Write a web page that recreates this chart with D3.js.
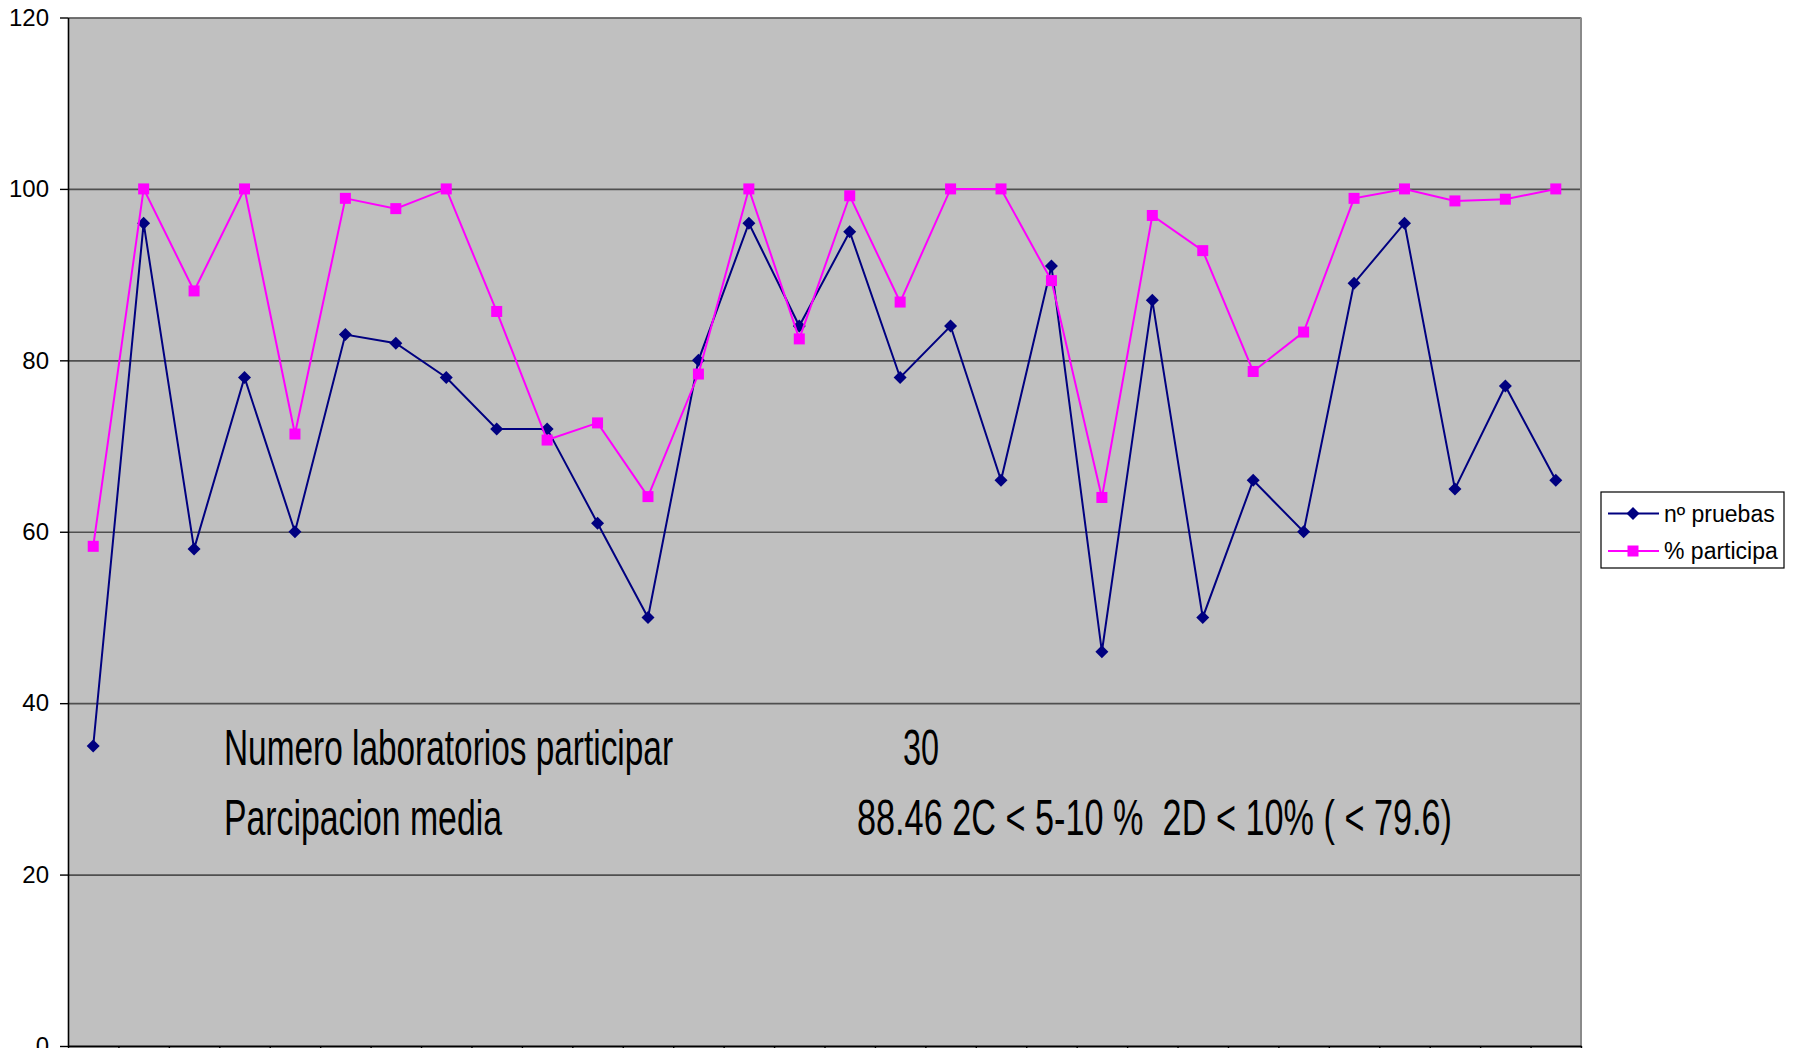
<!DOCTYPE html>
<html>
<head>
<meta charset="utf-8">
<script src="https://cdn.jsdelivr.net/npm/d3@7"></script>
<style>
  html, body { margin: 0; padding: 0; background: #ffffff; overflow: hidden; }
  svg { display: block; }
  text { font-family: "Liberation Sans", Arial, sans-serif; }
</style>
</head>
<body>
<svg id="chart" width="1807" height="1048"></svg>
<script>
// ---- data ----
const categories = ["1","2","3","4","5","6","7","8","9","10","11","12","13","14","15",
                    "16","17","18","19","20","21","22","23","24","25","26","27","28","29","30"];
const seriesNames = ["nº pruebas", "% participa"];
const pruebas = [35, 96, 58, 78, 60, 83, 82, 78, 72, 72, 61, 50, 80, 96, 84,
                 95, 78, 84, 66, 91, 46, 87, 50, 66, 60, 89, 96, 65, 77, 66];
const participa = [58.3, 100, 88.1, 100, 71.4, 98.9, 97.7, 100, 85.7, 70.7, 72.7, 64.1, 78.4, 100, 82.5,
                   99.2, 86.8, 100, 100, 89.3, 64.0, 96.9, 92.8, 78.7, 83.3, 98.9, 100, 98.6, 98.8, 100];
const yTicks = [0, 20, 40, 60, 80, 100, 120];
const annotationLines = [
  ["Numero laboratorios participar", "30"],
  ["Parcipacion media", "88.46 2C < 5-10 %  2D < 10% ( < 79.6)"]
];

// ---- layout ----
const svg = d3.select("#chart");
const L = 68, R = 1581, T = 17.5, B = 1046;

const x = d3.scaleBand().domain(categories).range([L, R]).padding(0);
const xEdge = d3.scaleLinear().domain([0, categories.length]).range([L, R]);
const y = d3.scaleLinear().domain([0, 120]).range([B, T]);

// plot background
svg.append("rect").attr("x", L).attr("y", T).attr("width", R - L).attr("height", B - T)
  .attr("fill", "#c0c0c0");

// gridlines
const grid = svg.append("g").attr("transform", `translate(${L},0)`)
  .call(d3.axisLeft(y).tickValues(yTicks.filter(v => v > 0)).tickSize(-(R - L)).tickFormat(""));
grid.select(".domain").remove();
grid.selectAll("line").attr("stroke", "#4f4f4f").attr("stroke-width", 1.6);

// right border
svg.append("line").attr("x1", R).attr("x2", R).attr("y1", T).attr("y2", B)
  .attr("stroke", "#8a8a8a").attr("stroke-width", 2);

// y axis
const yAxis = svg.append("g").attr("transform", `translate(${L},0)`)
  .call(d3.axisLeft(y).tickValues(yTicks).tickSize(8).tickPadding(11).tickSizeOuter(0));
yAxis.select(".domain").attr("stroke", "#000").attr("stroke-width", 1.6);
yAxis.selectAll(".tick line").attr("stroke", "#000").attr("stroke-width", 1.4);
yAxis.selectAll(".tick text").attr("font-size", 24).attr("fill", "#000")
  .attr("font-family", "'Liberation Sans', Arial, sans-serif");

// x axis (ticks between categories)
const xAxis = svg.append("g").attr("transform", `translate(0,${B})`)
  .call(d3.axisBottom(xEdge).tickValues(d3.range(0, categories.length + 1)).tickSize(8).tickFormat("").tickSizeOuter(0));
xAxis.select(".domain").attr("stroke", "#000").attr("stroke-width", 1.8);
xAxis.selectAll(".tick line").attr("stroke", "#000").attr("stroke-width", 1.4);

// annotation text
const annX1 = 224, annX2 = [903, 857];
const annBase = [765, 835];
const annW1 = [449, 278];
const annW2 = [36, 595];
annotationLines.forEach((ln, i) => {
  svg.append("text").attr("x", annX1).attr("y", annBase[i])
    .attr("font-size", 50).attr("fill", "#000")
    .attr("font-family", "'Liberation Sans Narrow', 'Arial Narrow', 'Liberation Sans', sans-serif")
    .attr("textLength", annW1[i]).attr("lengthAdjust", "spacingAndGlyphs")
    .style("white-space", "pre")
    .text(ln[0]);
  svg.append("text").attr("x", annX2[i]).attr("y", annBase[i])
    .attr("font-size", 50).attr("fill", "#000")
    .attr("font-family", "'Liberation Sans Narrow', 'Arial Narrow', 'Liberation Sans', sans-serif")
    .attr("textLength", annW2[i]).attr("lengthAdjust", "spacingAndGlyphs")
    .style("white-space", "pre")
    .text(ln[1]);
});

// lines & markers
const cx = (d, i) => x(categories[i]) + x.bandwidth() / 2;
const line = d3.line().x(cx).y(d => y(d));

const navy = "#000080", pink = "#ff00ff";
svg.append("path").datum(pruebas).attr("d", line)
  .attr("fill", "none").attr("stroke", navy).attr("stroke-width", 2);
const diamond = s => `M0,${-s}L${s},0L0,${s}L${-s},0Z`;
svg.append("g").selectAll("path").data(pruebas).join("path")
  .attr("transform", (d, i) => `translate(${cx(d, i)},${y(d)})`)
  .attr("d", diamond(6.5)).attr("fill", navy);

svg.append("path").datum(participa).attr("d", line)
  .attr("fill", "none").attr("stroke", pink).attr("stroke-width", 2);
svg.append("g").selectAll("rect").data(participa).join("rect")
  .attr("x", (d, i) => cx(d, i) - 5.5).attr("y", d => y(d) - 5.5)
  .attr("width", 11).attr("height", 11).attr("fill", pink);

// legend
const lgX = 1601, lgY = 492, lgW = 183, lgH = 76;
svg.append("defs").append("clipPath").attr("id", "lgclip")
  .append("rect").attr("x", lgX).attr("y", lgY).attr("width", lgW).attr("height", lgH);
const lg = svg.append("g");
lg.append("rect").attr("x", lgX).attr("y", lgY).attr("width", lgW).attr("height", lgH)
  .attr("fill", "#ffffff").attr("stroke", "#000").attr("stroke-width", 1.2);
const lgRows = [513.5, 551];
const lgG = lg.append("g").attr("clip-path", "url(#lgclip)");
seriesNames.forEach((name, i) => {
  const col = i === 0 ? navy : pink;
  lgG.append("line").attr("x1", 1608).attr("x2", 1659).attr("y1", lgRows[i]).attr("y2", lgRows[i])
    .attr("stroke", col).attr("stroke-width", 2);
  if (i === 0) {
    lgG.append("path").attr("transform", `translate(1633,${lgRows[i]})`).attr("d", diamond(6.5)).attr("fill", col);
  } else {
    lgG.append("rect").attr("x", 1627.5).attr("y", lgRows[i] - 5.5).attr("width", 11).attr("height", 11).attr("fill", col);
  }
  lgG.append("text").attr("x", 1664).attr("y", lgRows[i]).attr("dy", "0.35em")
    .attr("font-size", 23).attr("fill", "#000").text(name);
});
</script>
</body>
</html>
